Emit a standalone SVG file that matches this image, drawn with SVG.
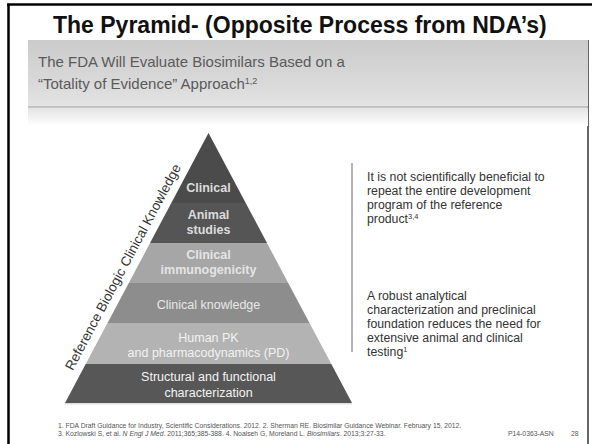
<svg xmlns="http://www.w3.org/2000/svg" width="592" height="444" viewBox="0 0 592 444">
  <defs>
    <linearGradient id="bandGrad" x1="0" y1="0" x2="0" y2="1">
      <stop offset="0" stop-color="#cbcbcb"/>
      <stop offset="0.6" stop-color="#d8d8d8"/>
      <stop offset="1" stop-color="#e4e4e4"/>
    </linearGradient>
    <linearGradient id="fadeGrad" x1="0" y1="0" x2="0" y2="1">
      <stop offset="0" stop-color="#e4e4e4"/>
      <stop offset="1" stop-color="#ffffff"/>
    </linearGradient>
    <style>
      .title { font-family: "Liberation Sans", Arial, sans-serif; font-weight: bold; font-size: 23px; fill: #111; }
      .sub { font-family: "Liberation Sans", Arial, sans-serif; font-size: 15px; fill: #5a5a5a; }
      .lbl { font-family: "Liberation Sans", Arial, sans-serif; font-size: 12.5px; text-anchor: middle; }
      .b { font-weight: bold; }
      .body { font-family: "Liberation Sans", Arial, sans-serif; font-size: 12.3px; fill: #333; }
      .foot { font-family: "Liberation Sans", Arial, sans-serif; font-size: 6.8px; fill: #555; }
      .side { font-family: "Liberation Sans", Arial, sans-serif; font-size: 13.5px; fill: #333; text-anchor: middle; }
    </style>
  </defs>

  <rect width="592" height="444" fill="#ffffff"/>

  <!-- slide frame -->
  <g id="frame">
    <line x1="7" y1="4.5" x2="592" y2="4.5" stroke="#000" stroke-width="2.5"/>
    <line x1="8.5" y1="4" x2="8.5" y2="444" stroke="#000" stroke-width="2.5"/>
    <line x1="588" y1="40" x2="588" y2="444" stroke="#333" stroke-width="1.5"/>
  </g>

  <text class="title" x="53" y="33">The Pyramid- (Opposite Process from NDA’s)</text>

  <!-- header band -->
  <g id="header">
    <rect x="28" y="40" width="560" height="67" fill="url(#bandGrad)"/>
    <rect x="28" y="108" width="560" height="18" fill="url(#fadeGrad)"/>
    <line x1="28" y1="107" x2="588" y2="107" stroke="#b4b4b4" stroke-width="1.5"/>
    <text class="sub" x="38" y="67">The FDA Will Evaluate Biosimilars Based on a</text>
    <text class="sub" x="38" y="89">“Totality of Evidence” Approach<tspan font-size="9" dy="-5">1,2</tspan></text>
  </g>

  <!-- pyramid tiers -->
  <g id="tier-clinical">
    <polygon points="208.5,133 245.7,203 171.3,203" fill="#4b4b4b"/>
    <text class="lbl b" x="208.5" y="192" fill="#dcdcdc">Clinical</text>
  </g>
  <g id="tier-animal">
    <polygon points="171.3,203 245.7,203 267,243 150,243" fill="#555555"/>
    <text class="lbl b" x="208.5" y="219" fill="#dcdcdc">Animal</text>
    <text class="lbl b" x="208.5" y="234" fill="#dcdcdc">studies</text>
  </g>
  <g id="tier-immunogenicity">
    <polygon points="150,243 267,243 288.2,283 128.8,283" fill="#a6a6a6"/>
    <text class="lbl b" x="208.5" y="259" fill="#e4e4e4">Clinical</text>
    <text class="lbl b" x="208.5" y="274" fill="#e4e4e4">immunogenicity</text>
  </g>
  <g id="tier-knowledge">
    <polygon points="128.8,283 288.2,283 309.5,323 107.5,323" fill="#8d8d8d"/>
    <text class="lbl" x="208.5" y="309" fill="#e8e8e8" font-size="13">Clinical knowledge</text>
  </g>
  <g id="tier-pk">
    <polygon points="107.5,323 309.5,323 331.3,364 85.7,364" fill="#b3b3b3"/>
    <text class="lbl" x="208.5" y="342" fill="#f2f2f2" font-size="13">Human PK</text>
    <text class="lbl" x="208.5" y="357" fill="#f2f2f2" font-size="13">and pharmacodynamics (PD)</text>
  </g>
  <g id="tier-structural">
    <polygon points="85.7,364 331.3,364 352,403 65,403" fill="#575757"/>
    <line x1="65" y1="403.8" x2="352" y2="403.8" stroke="#d0d0d0" stroke-width="1"/>
    <text class="lbl" x="208.5" y="381" fill="#f4f4f4" font-size="13">Structural and functional</text>
    <text class="lbl" x="208.5" y="397" fill="#f4f4f4" font-size="13">characterization</text>
  </g>

  <!-- label running up the left edge -->
  <text class="side" transform="translate(127,269.2) rotate(-62)">Reference Biologic Clinical Knowledge</text>

  <!-- divider and notes -->
  <g id="connectors">
    <line x1="352" y1="163" x2="352" y2="352" stroke="#666" stroke-width="1"/>
  </g>
  <g id="notes">
    <text class="body" x="367" y="181">It is not scientifically beneficial to</text>
    <text class="body" x="367" y="195">repeat the entire development</text>
    <text class="body" x="367" y="209">program of the reference</text>
    <text class="body" x="367" y="223">product<tspan font-size="7.5" dy="-4">3,4</tspan></text>

    <text class="body" x="367" y="300">A robust analytical</text>
    <text class="body" x="367" y="314">characterization and preclinical</text>
    <text class="body" x="367" y="328">foundation reduces the need for</text>
    <text class="body" x="367" y="342">extensive animal and clinical</text>
    <text class="body" x="367" y="356">testing<tspan font-size="7.5" dy="-4">1</tspan></text>
  </g>

  <!-- references -->
  <g id="footer">
    <text class="foot" x="58" y="428">1. FDA Draft Guidance for Industry, Scientific Considerations. 2012. 2. Sherman RE. Biosimilar Guidance Webinar. February 15, 2012.</text>
    <text class="foot" x="58" y="436">3. Kozlowski S, et al. <tspan font-style="italic">N Engl J Med</tspan>. 2011;365;385-388. 4. Noaiseh G, Moreland L. <tspan font-style="italic">Biosimilars</tspan>. 2013;3:27-33.</text>
    <text class="foot" x="508" y="436" fill="#888">P14-0363-ASN</text>
    <text class="foot" x="571" y="436" fill="#888">28</text>
  </g>
</svg>
